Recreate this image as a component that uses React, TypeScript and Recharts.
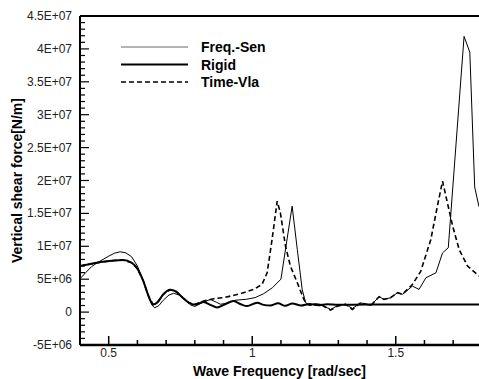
import React from 'react';
import { LineChart, Line, XAxis, YAxis, Legend, ReferenceLine } from 'recharts';

// values in units of 1E6 N/m
const freqSen: [number, number][] = [
  [0.40, 5.07], [0.42, 6.0], [0.44, 6.9], [0.46, 7.5], [0.48, 8.0], [0.50, 8.5], [0.52, 8.95], [0.54, 9.17],
  [0.56, 9.0], [0.58, 8.4], [0.60, 7.0], [0.62, 4.8], [0.64, 2.2], [0.65, 1.1], [0.66, 0.65], [0.675, 1.0],
  [0.69, 1.8], [0.71, 2.6], [0.726, 2.85], [0.745, 2.6], [0.765, 1.9], [0.785, 1.1], [0.80, 0.85], [0.82, 1.3],
  [0.854, 1.93], [0.875, 1.5], [0.889, 1.2], [0.91, 1.3], [0.94, 1.8], [0.98, 1.95], [1.01, 2.2], [1.04, 2.8],
  [1.07, 3.7], [1.10, 5.0], [1.139, 16.1], [1.157, 9.5], [1.174, 3.45], [1.186, 1.43], [1.20, 1.0], [1.22, 1.3],
  [1.238, 1.17], [1.273, 0.4], [1.296, 0.95], [1.325, 1.2], [1.349, 0.55], [1.378, 1.4], [1.413, 1.0], [1.442, 2.34],
  [1.459, 1.93], [1.482, 2.18], [1.506, 2.95], [1.523, 2.69], [1.558, 3.95], [1.581, 3.45], [1.605, 5.22], [1.64, 5.98],
  [1.663, 9.0], [1.683, 9.78], [1.738, 41.9], [1.758, 39.5], [1.775, 19.0], [1.79, 16.0],
];

const rigid: [number, number][] = [
  [0.40, 7.0], [0.44, 7.35], [0.48, 7.65], [0.52, 7.85], [0.55, 7.9], [0.58, 7.5], [0.60, 6.6], [0.62, 4.8],
  [0.64, 2.3], [0.655, 1.15], [0.67, 1.5], [0.69, 2.7], [0.714, 3.4], [0.735, 3.1], [0.76, 2.1], [0.78, 1.4],
  [0.80, 1.15], [0.83, 1.52], [0.855, 1.1], [0.877, 0.7], [0.905, 1.2], [0.935, 1.67], [0.96, 1.2], [0.982, 0.91],
  [1.017, 1.43], [1.04, 1.1], [1.063, 1.0], [1.09, 1.35], [1.115, 0.95], [1.14, 1.3], [1.17, 1.0], [1.20, 1.25],
  [1.23, 1.05], [1.26, 1.2], [1.30, 1.1], [1.40, 1.15], [1.50, 1.15], [1.60, 1.15], [1.70, 1.15], [1.79, 1.15],
];

const timeVla: [number, number][] = [
  [0.40, 7.0], [0.44, 7.35], [0.48, 7.65], [0.52, 7.85], [0.55, 7.9], [0.58, 7.5], [0.60, 6.6], [0.62, 4.8],
  [0.64, 2.3], [0.655, 1.15], [0.67, 1.5], [0.69, 2.7], [0.714, 3.4], [0.735, 3.1], [0.76, 2.1], [0.78, 1.4],
  [0.80, 1.15], [0.83, 1.67], [0.865, 2.03], [0.90, 2.2], [0.924, 2.43], [0.96, 2.8], [1.005, 3.45], [1.034, 4.2],
  [1.052, 5.98], [1.069, 11.0], [1.087, 16.86], [1.098, 15.1], [1.116, 10.0], [1.133, 7.0], [1.157, 4.46], [1.18, 1.93],
  [1.19, 1.17], [1.21, 1.0], [1.238, 1.17], [1.273, 0.3], [1.296, 0.9], [1.325, 1.17], [1.349, 0.4], [1.378, 1.43],
  [1.413, 1.0], [1.442, 2.34], [1.459, 1.93], [1.482, 2.18], [1.506, 2.95], [1.523, 2.69], [1.558, 4.2], [1.587, 6.2],
  [1.622, 11.0], [1.645, 16.1], [1.663, 19.9], [1.68, 16.6], [1.698, 13.1], [1.721, 9.5], [1.75, 7.0], [1.79, 5.47],
];

const seriesNames = ['Freq.-Sen', 'Rigid', 'Time-Vla'];
const xTicks = [0.4, 0.5, 0.6, 0.7, 0.8, 0.9, 1.0, 1.1, 1.2, 1.3, 1.4, 1.5, 1.6, 1.7];
const xTickLabels: Record<string, string> = { '0.5': '0.5', '1': '1', '1.5': '1.5' };
const yTickLabels = ['-5E+06', '0', '5E+06', '1E+07', '1.5E+07', '2E+07', '2.5E+07', '3E+07', '3.5E+07', '4E+07', '4.5E+07'];
const yMajorStep = 5e6;
const yMinorStep = 1e6;

const toData = (arr: [number, number][]) => arr.map(([x, y]) => ({ x, y: y * 1e6 }));

const FONT = '"Liberation Sans", Arial, sans-serif';
const PLOT_BOTTOM = 345;
const PLOT_LEFT = 80;

const yTicks: number[] = [];
for (let i = 0; i <= 50; i++) yTicks.push(-5e6 + i * yMinorStep);

const XTick = (props: any) => {
  const { x, payload } = props;
  const v = Math.round(payload.value * 10) / 10;
  const key = String(v);
  const major = key in xTickLabels;
  return (
    <g>
      <line x1={x} x2={x} y1={PLOT_BOTTOM} y2={PLOT_BOTTOM - (major ? 9 : 5)} stroke="#000" strokeWidth={1.5} />
      {major && (
        <text x={x} y={PLOT_BOTTOM + 12} textAnchor="middle" fontSize={12} fontFamily={FONT} fill="#222">
          {xTickLabels[key]}
        </text>
      )}
    </g>
  );
};

const YTick = (props: any) => {
  const { y, payload } = props;
  const v = payload.value;
  const idx = Math.round((v + 5e6) / yMajorStep);
  const major = Math.abs(v + 5e6 - idx * yMajorStep) < 1;
  return (
    <g>
      <line x1={PLOT_LEFT} x2={PLOT_LEFT + (major ? 9 : 5)} y1={y} y2={y} stroke="#000" strokeWidth={1.2} />
      {major && (
        <text x={72} y={y + 4} textAnchor="end" fontSize={12} fontFamily={FONT} fill="#222">
          {yTickLabels[idx]}
        </text>
      )}
    </g>
  );
};

const LegendContent = () => {
  const rows = [
    { name: seriesNames[0], width: 1, dash: undefined as string | undefined, color: '#666' },
    { name: seriesNames[1], width: 2, dash: undefined, color: '#000' },
    { name: seriesNames[2], width: 1.6, dash: '5 3', color: '#000' },
  ];
  return (
    <svg width={200} height={60}>
      {rows.map((r, i) => (
        <g key={r.name}>
          <line x1={0} x2={67} y1={8 + i * 17.5} y2={8 + i * 17.5} stroke={r.color} strokeWidth={r.width} strokeDasharray={r.dash} />
          <text x={80} y={13 + i * 17.5} fontSize={14} fontWeight="bold" fontFamily={FONT} fill="#000">
            {r.name}
          </text>
        </g>
      ))}
    </svg>
  );
};

export default function App() {
  return (
    <div style={{ position: 'absolute', left: 0, top: 0, width: 479, height: 379, background: '#fff' }}>
      <LineChart width={479} height={379} margin={{ top: 16, right: 0, left: 0, bottom: 0 }}>
        <XAxis
          type="number"
          dataKey="x"
          domain={[0.4, 1.79]}
          allowDataOverflow
          ticks={xTicks}
          interval={0}
          height={34}
          tickLine={false}
          tick={<XTick />}
          axisLine={{ stroke: '#000', strokeWidth: 2.5 }}
          label={{ value: 'Wave Frequency [rad/sec]', position: 'insideBottom', offset: 3, fontSize: 14, fontWeight: 'bold', fontFamily: FONT, fill: '#000' }}
        />
        <YAxis
          type="number"
          domain={[-5e6, 4.5e7]}
          allowDataOverflow
          ticks={yTicks}
          interval={0}
          width={80}
          tickLine={false}
          tick={<YTick />}
          axisLine={{ stroke: '#000', strokeWidth: 2 }}
          label={{ value: 'Vertical shear force[N/m]', angle: -90, position: 'insideLeft', offset: 17, fontSize: 14, fontWeight: 'bold', fontFamily: FONT, fill: '#000', style: { textAnchor: 'middle' } }}
        />
        <ReferenceLine y={4.5e7} stroke="#000" strokeWidth={2} />
        <Legend
          layout="horizontal"
          verticalAlign="middle"
          align="center"
          content={<LegendContent />}
          wrapperStyle={{ position: 'absolute', left: 121, top: 39, width: 200, height: 60 }}
        />
        <Line data={toData(timeVla)} dataKey="y" name={seriesNames[2]} type="linear" stroke="#000" strokeWidth={1.6} strokeDasharray="5 3" dot={false} isAnimationActive={false} />
        <Line data={toData(rigid)} dataKey="y" name={seriesNames[1]} type="monotone" stroke="#000" strokeWidth={2} dot={false} isAnimationActive={false} />
        <Line data={toData(freqSen)} dataKey="y" name={seriesNames[0]} type="linear" stroke="#000" strokeWidth={1} dot={false} isAnimationActive={false} />
      </LineChart>
    </div>
  );
}
